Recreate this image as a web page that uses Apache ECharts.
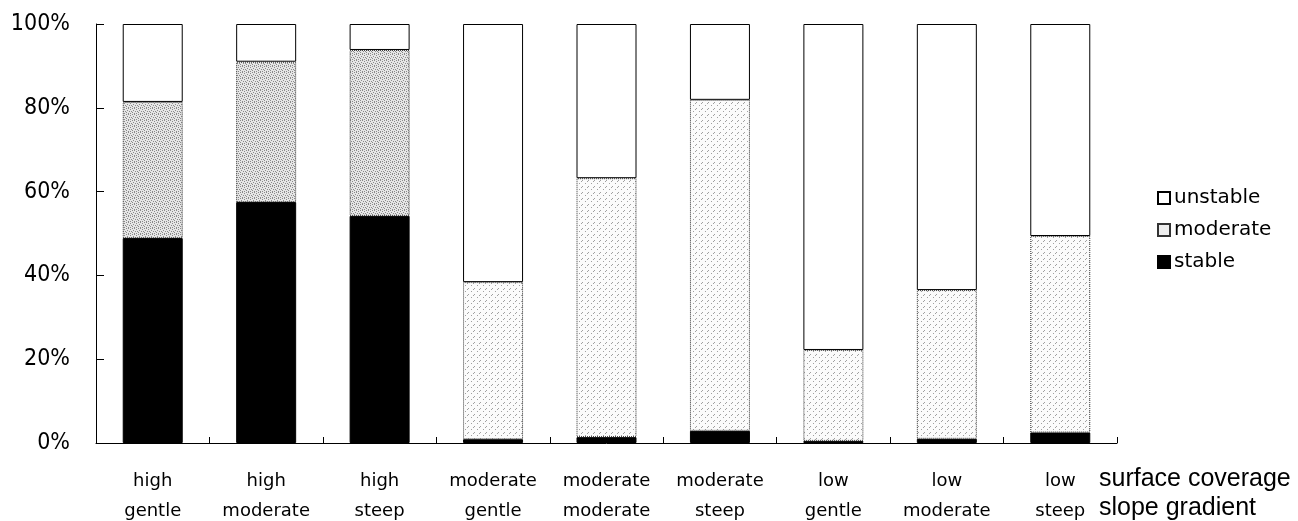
<!DOCTYPE html>
<html><head><meta charset="utf-8">
<script src="https://cdn.jsdelivr.net/npm/echarts@6/dist/echarts.min.js"></script>
<style>html,body{margin:0;padding:0;background:#fff}#c{width:1298px;height:521px}</style>
</head><body><div id="c"></div>
<script>
var coverage = ['high','high','high','moderate','moderate','moderate','low','low','low'];
var gradient = ['gentle','moderate','steep','gentle','moderate','steep','gentle','moderate','steep'];
var stable   = [48.9, 57.5, 54.2, 0.9, 1.4, 2.9, 0.5, 1.0, 2.5];
var moderate = [32.5, 33.5, 39.6, 37.5, 61.8, 79.0, 21.7, 35.5, 46.9];
var unstable = [18.6, 9.0, 6.2, 61.6, 36.8, 18.1, 77.8, 63.5, 50.6];
var yTicks = [0, 20, 40, 60, 80, 100];
var axisTitle = ['surface coverage', 'slope gradient'];

function makePattern(bg, dot, density) {
  var c = document.createElement('canvas');
  c.width = 6; c.height = 6;
  var g = c.getContext('2d');
  g.fillStyle = bg; g.fillRect(0, 0, 6, 6);
  g.fillStyle = dot;
  var pts = density === 'dense'
    ? [[0,0],[2,0],[4,1],[1,2],[3,3],[5,3],[0,4],[2,5],[4,5]]
    : [[0,0],[3,3],[5,1]];
  pts.forEach(function(p){ g.fillRect(p[0], p[1], 1, 1); });
  return c;
}
var densePat = makePattern('#e6e6e6', '#8a8a8a', 'dense');
var lightPat = makePattern('#fbfbfb', '#a0a0a0', 'light');

var cats = coverage.map(function(c, i){ return c + '\n' + gradient[i]; });
var modData = moderate.map(function(v, i){
  return { value: v, itemStyle: { color: { image: i < 3 ? densePat : lightPat, repeat: 'repeat' } } };
});

var chart = echarts.init(document.getElementById('c'));
var labelFont = '"DejaVu Sans", sans-serif';
chart.setOption({
  animation: false,
  backgroundColor: '#fff',
  grid: { left: 96, right: 181, top: 24, bottom: 78, outerBoundsMode: 'none', containLabel: false },
  legend: {
    orient: 'vertical', left: 1152, top: 183,
    data: ['unstable', 'moderate', 'stable'],
    itemWidth: 12, itemHeight: 12, itemGap: 12,
    textStyle: { fontSize: 20, color: '#000', fontFamily: labelFont, padding: [0, 0, 0, -1] },
    icon: 'rect'
  },
  xAxis: {
    type: 'category', data: cats,
    axisLine: { lineStyle: { color: '#000', width: 1 } },
    axisTick: { show: true, inside: true, length: 6, lineStyle: { color: '#000' } },
    axisLabel: { fontSize: 18, color: '#000', lineHeight: 30, margin: 23, fontFamily: labelFont, interval: 0 }
  },
  yAxis: {
    type: 'value', min: 0, max: 100, interval: 20,
    axisLine: { show: true, lineStyle: { color: '#000', width: 1 } },
    axisTick: { show: true, inside: true, length: 8, lineStyle: { color: '#000' } },
    splitLine: { show: false },
    axisLabel: { fontSize: 23, color: '#000', margin: 26,
      fontFamily: '"Liberation Sans Narrow", "DejaVu Sans Condensed", sans-serif',
      formatter: function(v){ return yTicks.indexOf(v) >= 0 ? v + '%' : ''; } }
  },
  series: [
    { name: 'stable', type: 'bar', stack: 's', barWidth: 60, data: stable,
      itemStyle: { color: '#000', borderColor: '#000', borderWidth: 1 } },
    { name: 'moderate', type: 'bar', stack: 's', barWidth: 60, data: modData,
      itemStyle: { color: '#eeeeee', borderColor: '#333', borderWidth: 1, borderType: 'dotted' } },
    { name: 'unstable', type: 'bar', stack: 's', barWidth: 60, data: unstable,
      itemStyle: { color: '#fff', borderColor: '#000', borderWidth: 1 } }
  ],
  graphic: [{
    type: 'text', left: 1099, top: 465,
    style: { text: axisTitle.join('\n'), lineHeight: 29, fill: '#000',
      font: '25px "Liberation Sans", Arial, sans-serif' }
  }]
});
</script></body></html>
